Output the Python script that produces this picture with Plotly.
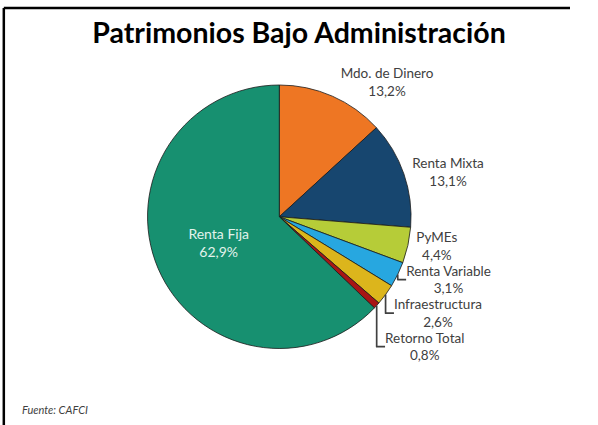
import plotly.graph_objects as go

labels = ["Mdo. de Dinero", "Renta Mixta", "PyMEs", "Renta Variable",
          "Infraestructura", "Retorno Total", "Renta Fija"]
values = [13.2, 13.1, 4.4, 3.1, 2.6, 0.8, 62.9]
colors = ["#ee7623", "#17466f", "#b6cc38", "#27a7e0", "#dcb51c", "#a81515", "#179070"]
text_pos = ["outside"] * 6 + ["inside"]

fig = go.Figure(go.Pie(
    labels=labels, values=values, sort=False, direction="clockwise", rotation=0,
    marker=dict(colors=colors, line=dict(color="#1a1a1a", width=0.8)),
    textposition=text_pos,
    texttemplate="%{label}<br>%{value:.1f}%",
    insidetextorientation="horizontal",
    insidetextfont=dict(color="#e2f3ec", size=14, family="Lato"),
    outsidetextfont=dict(color="#404040", size=13.5, family="Lato"),
    hoverinfo="label+value",
    domain=dict(x=[0.17, 0.81], y=[0.18, 0.80]),
    showlegend=False,
))

fig.update_layout(
    width=598, height=425,
    margin=dict(l=0, r=0, t=0, b=0),
    paper_bgcolor="white", plot_bgcolor="white",
    separators=",.",
    font=dict(family="Lato", color="#404040"),
    title=dict(text="<b>Patrimonios Bajo Administración</b>", x=0.5, xanchor="center",
               y=1 - 33/425, yanchor="middle", font=dict(size=28.5, color="black", family="Lato")),
    shapes=[
        dict(type="line", xref="paper", yref="paper", x0=4/598, x1=1.0,
             y0=1 - 8/425, y1=1 - 8/425, line=dict(color="black", width=2.5)),
        dict(type="line", xref="paper", yref="paper", x0=4/598, x1=4/598,
             y0=0, y1=1 - 8/425, line=dict(color="black", width=2.5)),
    ],
    annotations=[dict(text="<i>Fuente: CAFCI</i>", xref="paper", yref="paper",
                      x=21/598, y=1 - 409/425, xanchor="left", yanchor="middle",
                      showarrow=False, font=dict(size=11, color="#404040", family="Lato"))],
)

fig.write_html("out.html", config={"displayModeBar": False},
               post_script="document.body.style.margin='0';document.body.style.overflow='hidden';document.documentElement.style.overflow='hidden';")
